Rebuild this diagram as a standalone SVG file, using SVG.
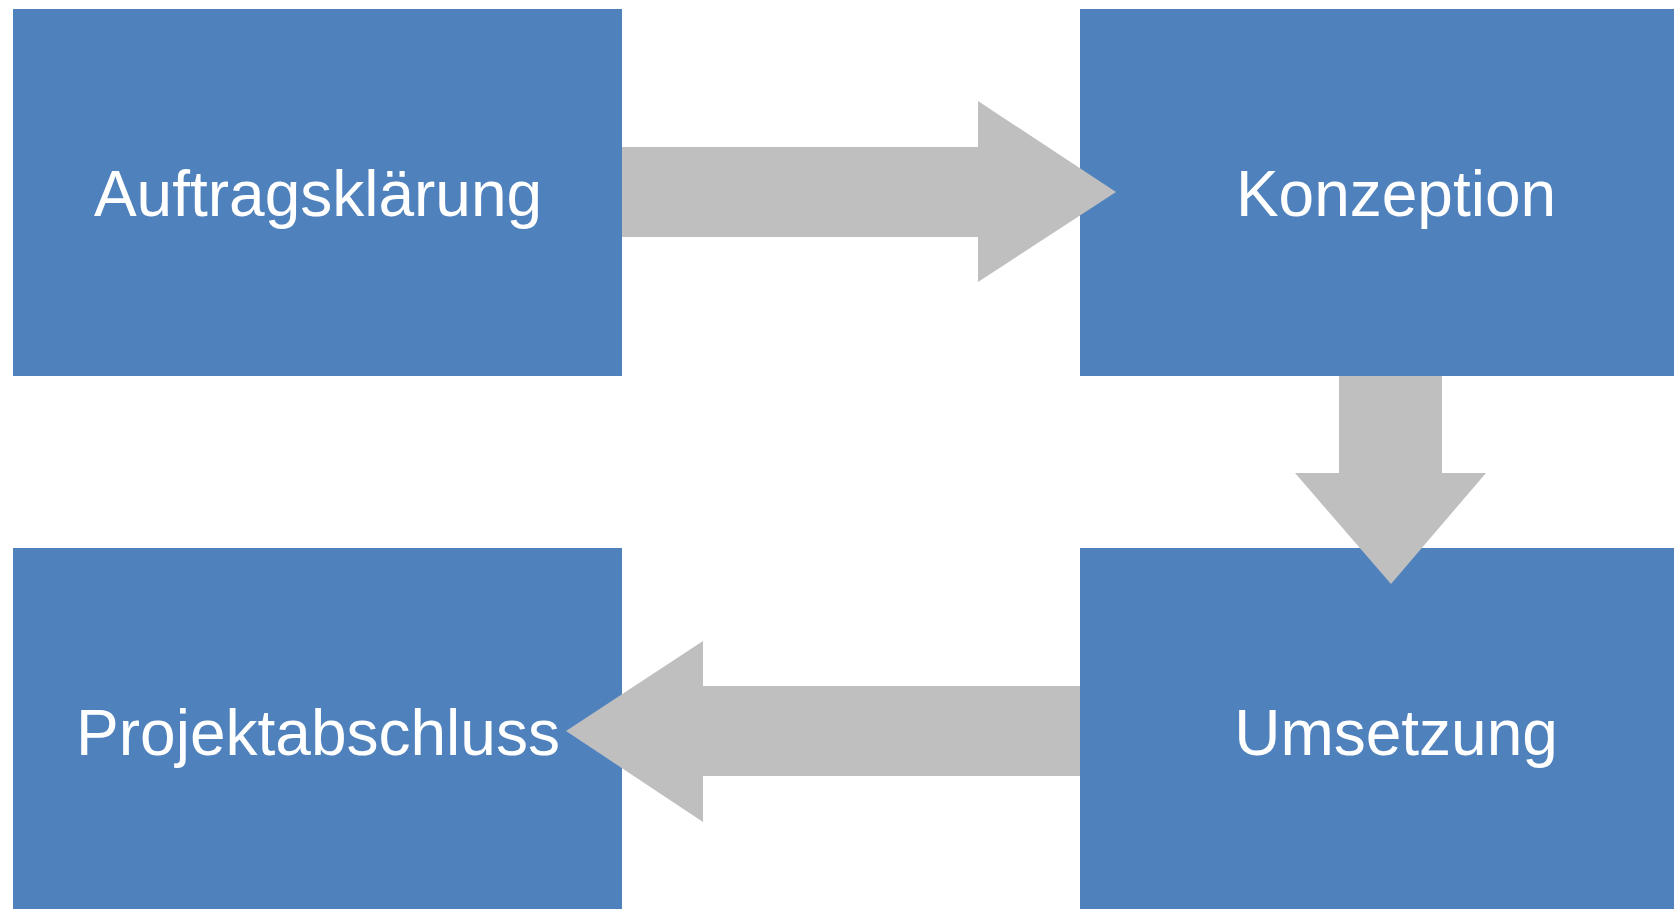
<svg xmlns="http://www.w3.org/2000/svg" width="1674" height="909" viewBox="0 0 1674 909">
<style>
.box{fill:#4F81BD}
.lbl{fill:#FFFFFF;font-family:"Liberation Sans",Arial,sans-serif;font-size:64px;text-anchor:middle}
.arr{fill:#BFBFBF}
</style>
<rect x="0" y="0" width="1674" height="909" fill="#FFFFFF"/>
<g id="node-auftragsklaerung">
<rect class="box" x="13" y="9" width="609" height="367"/>
<text class="lbl" x="318" y="216">Auftragsklärung</text>
</g>
<g id="node-konzeption">
<rect class="box" x="1080" y="9" width="594" height="367"/>
<text class="lbl" x="1396" y="216">Konzeption</text>
</g>
<g id="node-umsetzung">
<rect class="box" x="1080" y="548" width="594" height="361"/>
<text class="lbl" x="1396" y="755">Umsetzung</text>
</g>
<g id="node-projektabschluss">
<rect class="box" x="13" y="548" width="609" height="361"/>
<text class="lbl" x="318" y="755">Projektabschluss</text>
</g>
<g id="connectors">
<polygon class="arr" points="622,147 978,147 978,101 1116,192 978,282 978,237 622,237"/>
<polygon class="arr" points="1339,376 1442,376 1442,473 1486,473 1391,584 1295,473 1339,473"/>
<polygon class="arr" points="1080,686 703,686 703,641 566,731 703,822 703,776 1080,776"/>
</g>
</svg>
